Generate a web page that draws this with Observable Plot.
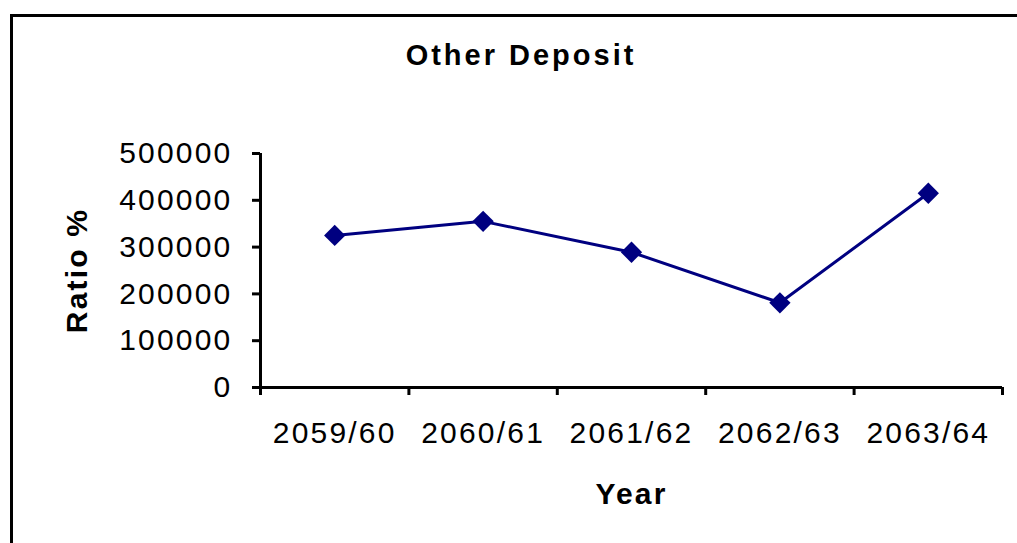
<!DOCTYPE html>
<html>
<head>
<meta charset="utf-8">
<script src="https://cdn.jsdelivr.net/npm/d3@7"></script>
<script src="https://cdn.jsdelivr.net/npm/@observablehq/plot@0.6"></script>
<style>
  html, body { margin: 0; padding: 0; background: #fff; overflow: hidden; }
  #wrap { position: relative; width: 1017px; height: 543px; overflow: hidden; font-family: "Liberation Sans", Arial, sans-serif; }
  #topbar { position: absolute; left: 10px; top: 14px; width: 1007px; height: 3px; background: #000; }
  #leftbar { position: absolute; left: 10px; top: 14px; width: 3px; height: 529px; background: #000; }
  #title { position: absolute; left: 300px; width: 442px; top: 39px; text-align: center; font-weight: bold; font-size: 29px; letter-spacing: 3px; color: #000; }
  svg text { letter-spacing: 2.2px; }
</style>
</head>
<body>
<div id="wrap">
  <div id="chart"></div>
  <div id="topbar"></div>
  <div id="leftbar"></div>
  <div id="title">Other Deposit</div>
</div>
<script>
const years = ["2059/60", "2060/61", "2061/62", "2062/63", "2063/64"];
const deposits = [325000, 355000, 289000, 181000, 415000];
const yTicks = [0, 100000, 200000, 300000, 400000, 500000];

const data = years.map((y, i) => ({year: y, pos: i + 0.5, value: deposits[i]}));
const bounds = d3.range(years.length + 1);
const navy = "#000080";

const chart = Plot.plot({
  width: 1017,
  height: 543,
  marginLeft: 260,
  marginRight: 15,
  marginTop: 153,
  marginBottom: 156,
  style: {fontFamily: "'Liberation Sans', Arial, sans-serif", fontSize: "30px", color: "#000", background: "transparent"},
  x: {type: "linear", domain: [0, years.length]},
  y: {domain: [0, 500000]},
  marks: [
    Plot.axisY({ticks: yTicks, tickSize: 8, tickPadding: 20, tickFormat: d => String(d), strokeWidth: 3,
      label: "Ratio %", labelAnchor: "center", labelArrow: "none", labelOffset: 195}),
    Plot.axisX({ticks: bounds, tickSize: 8, tickFormat: () => "", strokeWidth: 3, label: null}),
    Plot.axisX({ticks: data.map(d => d.pos), tickSize: 0, tickPadding: 34, tickFormat: (d, i) => years[i],
      label: "Year", labelAnchor: "center", labelArrow: "none", labelOffset: 116}),
    Plot.ruleY([0], {stroke: "#000", strokeWidth: 3}),
    Plot.ruleX([0], {stroke: "#000", strokeWidth: 3}),
    Plot.line(data, {x: "pos", y: "value", stroke: navy, strokeWidth: 3}),
    Plot.dot(data, {x: "pos", y: "value", symbol: "diamond2", r: 9.6, fill: navy, stroke: "none"})
  ]
});
document.getElementById("chart").appendChild(chart);
// bold the axis titles only
chart.querySelectorAll("g[aria-label='y-axis label'] text, g[aria-label='x-axis label'] text").forEach(t => t.setAttribute("font-weight", "bold"));
</script>
</body>
</html>
